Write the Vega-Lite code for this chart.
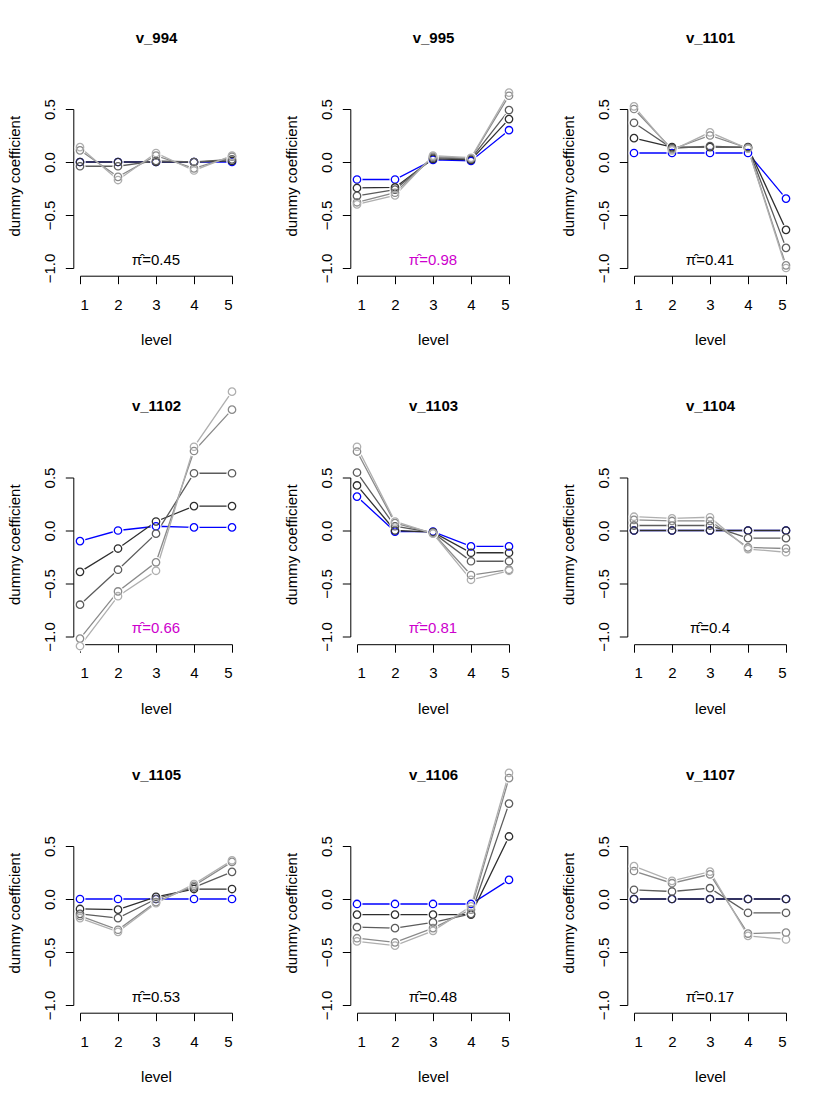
{
  "$schema": "https://vega.github.io/schema/vega-lite/v6.json",
  "background": "white",
  "padding": {"left": 7, "top": 30, "right": 5, "bottom": 5},
  "datasets": {
    "coef": [
      {"v":"v_994","path":"p1","level":1,"coef":0},{"v":"v_994","path":"p1","level":2,"coef":0},{"v":"v_994","path":"p1","level":3,"coef":0},{"v":"v_994","path":"p1","level":4,"coef":0},{"v":"v_994","path":"p1","level":5,"coef":0},
      {"v":"v_994","path":"p2","level":1,"coef":0},{"v":"v_994","path":"p2","level":2,"coef":0},{"v":"v_994","path":"p2","level":3,"coef":0},{"v":"v_994","path":"p2","level":4,"coef":0},{"v":"v_994","path":"p2","level":5,"coef":0.01},
      {"v":"v_994","path":"p3","level":1,"coef":-0.04},{"v":"v_994","path":"p3","level":2,"coef":-0.04},{"v":"v_994","path":"p3","level":3,"coef":0.01},{"v":"v_994","path":"p3","level":4,"coef":0},{"v":"v_994","path":"p3","level":5,"coef":0.025},
      {"v":"v_994","path":"p4","level":1,"coef":0.11},{"v":"v_994","path":"p4","level":2,"coef":-0.14},{"v":"v_994","path":"p4","level":3,"coef":0.06},{"v":"v_994","path":"p4","level":4,"coef":-0.06},{"v":"v_994","path":"p4","level":5,"coef":0.05},
      {"v":"v_994","path":"p5","level":1,"coef":0.14},{"v":"v_994","path":"p5","level":2,"coef":-0.17},{"v":"v_994","path":"p5","level":3,"coef":0.085},{"v":"v_994","path":"p5","level":4,"coef":-0.08},{"v":"v_994","path":"p5","level":5,"coef":0.06},

      {"v":"v_995","path":"p1","level":1,"coef":-0.165},{"v":"v_995","path":"p1","level":2,"coef":-0.165},{"v":"v_995","path":"p1","level":3,"coef":0.02},{"v":"v_995","path":"p1","level":4,"coef":0.01},{"v":"v_995","path":"p1","level":5,"coef":0.3},
      {"v":"v_995","path":"p2","level":1,"coef":-0.245},{"v":"v_995","path":"p2","level":2,"coef":-0.24},{"v":"v_995","path":"p2","level":3,"coef":0.03},{"v":"v_995","path":"p2","level":4,"coef":0.02},{"v":"v_995","path":"p2","level":5,"coef":0.405},
      {"v":"v_995","path":"p3","level":1,"coef":-0.32},{"v":"v_995","path":"p3","level":2,"coef":-0.26},{"v":"v_995","path":"p3","level":3,"coef":0.04},{"v":"v_995","path":"p3","level":4,"coef":0.03},{"v":"v_995","path":"p3","level":5,"coef":0.49},
      {"v":"v_995","path":"p4","level":1,"coef":-0.38},{"v":"v_995","path":"p4","level":2,"coef":-0.29},{"v":"v_995","path":"p4","level":3,"coef":0.05},{"v":"v_995","path":"p4","level":4,"coef":0.035},{"v":"v_995","path":"p4","level":5,"coef":0.625},
      {"v":"v_995","path":"p5","level":1,"coef":-0.4},{"v":"v_995","path":"p5","level":2,"coef":-0.315},{"v":"v_995","path":"p5","level":3,"coef":0.06},{"v":"v_995","path":"p5","level":4,"coef":0.04},{"v":"v_995","path":"p5","level":5,"coef":0.655},

      {"v":"v_1101","path":"p1","level":1,"coef":0.085},{"v":"v_1101","path":"p1","level":2,"coef":0.085},{"v":"v_1101","path":"p1","level":3,"coef":0.085},{"v":"v_1101","path":"p1","level":4,"coef":0.085},{"v":"v_1101","path":"p1","level":5,"coef":-0.345},
      {"v":"v_1101","path":"p2","level":1,"coef":0.225},{"v":"v_1101","path":"p2","level":2,"coef":0.14},{"v":"v_1101","path":"p2","level":3,"coef":0.14},{"v":"v_1101","path":"p2","level":4,"coef":0.14},{"v":"v_1101","path":"p2","level":5,"coef":-0.64},
      {"v":"v_1101","path":"p3","level":1,"coef":0.37},{"v":"v_1101","path":"p3","level":2,"coef":0.13},{"v":"v_1101","path":"p3","level":3,"coef":0.15},{"v":"v_1101","path":"p3","level":4,"coef":0.135},{"v":"v_1101","path":"p3","level":5,"coef":-0.81},
      {"v":"v_1101","path":"p4","level":1,"coef":0.5},{"v":"v_1101","path":"p4","level":2,"coef":0.12},{"v":"v_1101","path":"p4","level":3,"coef":0.25},{"v":"v_1101","path":"p4","level":4,"coef":0.13},{"v":"v_1101","path":"p4","level":5,"coef":-0.975},
      {"v":"v_1101","path":"p5","level":1,"coef":0.525},{"v":"v_1101","path":"p5","level":2,"coef":0.11},{"v":"v_1101","path":"p5","level":3,"coef":0.28},{"v":"v_1101","path":"p5","level":4,"coef":0.125},{"v":"v_1101","path":"p5","level":5,"coef":-1.0},

      {"v":"v_1102","path":"p1","level":1,"coef":-0.1},{"v":"v_1102","path":"p1","level":2,"coef":0.0},{"v":"v_1102","path":"p1","level":3,"coef":0.04},{"v":"v_1102","path":"p1","level":4,"coef":0.03},{"v":"v_1102","path":"p1","level":5,"coef":0.03},
      {"v":"v_1102","path":"p2","level":1,"coef":-0.39},{"v":"v_1102","path":"p2","level":2,"coef":-0.17},{"v":"v_1102","path":"p2","level":3,"coef":0.085},{"v":"v_1102","path":"p2","level":4,"coef":0.23},{"v":"v_1102","path":"p2","level":5,"coef":0.23},
      {"v":"v_1102","path":"p3","level":1,"coef":-0.7},{"v":"v_1102","path":"p3","level":2,"coef":-0.37},{"v":"v_1102","path":"p3","level":3,"coef":-0.03},{"v":"v_1102","path":"p3","level":4,"coef":0.54},{"v":"v_1102","path":"p3","level":5,"coef":0.54},
      {"v":"v_1102","path":"p4","level":1,"coef":-1.02},{"v":"v_1102","path":"p4","level":2,"coef":-0.575},{"v":"v_1102","path":"p4","level":3,"coef":-0.3},{"v":"v_1102","path":"p4","level":4,"coef":0.75},{"v":"v_1102","path":"p4","level":5,"coef":1.14},
      {"v":"v_1102","path":"p5","level":1,"coef":-1.09},{"v":"v_1102","path":"p5","level":2,"coef":-0.62},{"v":"v_1102","path":"p5","level":3,"coef":-0.38},{"v":"v_1102","path":"p5","level":4,"coef":0.79},{"v":"v_1102","path":"p5","level":5,"coef":1.31},

      {"v":"v_1103","path":"p1","level":1,"coef":0.32},{"v":"v_1103","path":"p1","level":2,"coef":-0.01},{"v":"v_1103","path":"p1","level":3,"coef":-0.01},{"v":"v_1103","path":"p1","level":4,"coef":-0.15},{"v":"v_1103","path":"p1","level":5,"coef":-0.15},
      {"v":"v_1103","path":"p2","level":1,"coef":0.425},{"v":"v_1103","path":"p2","level":2,"coef":0.0},{"v":"v_1103","path":"p2","level":3,"coef":-0.015},{"v":"v_1103","path":"p2","level":4,"coef":-0.21},{"v":"v_1103","path":"p2","level":5,"coef":-0.21},
      {"v":"v_1103","path":"p3","level":1,"coef":0.547},{"v":"v_1103","path":"p3","level":2,"coef":0.04},{"v":"v_1103","path":"p3","level":3,"coef":-0.02},{"v":"v_1103","path":"p3","level":4,"coef":-0.29},{"v":"v_1103","path":"p3","level":5,"coef":-0.29},
      {"v":"v_1103","path":"p4","level":1,"coef":0.745},{"v":"v_1103","path":"p4","level":2,"coef":0.07},{"v":"v_1103","path":"p4","level":3,"coef":-0.025},{"v":"v_1103","path":"p4","level":4,"coef":-0.42},{"v":"v_1103","path":"p4","level":5,"coef":-0.37},
      {"v":"v_1103","path":"p5","level":1,"coef":0.79},{"v":"v_1103","path":"p5","level":2,"coef":0.085},{"v":"v_1103","path":"p5","level":3,"coef":-0.03},{"v":"v_1103","path":"p5","level":4,"coef":-0.465},{"v":"v_1103","path":"p5","level":5,"coef":-0.38},

      {"v":"v_1104","path":"p1","level":1,"coef":0},{"v":"v_1104","path":"p1","level":2,"coef":0},{"v":"v_1104","path":"p1","level":3,"coef":0},{"v":"v_1104","path":"p1","level":4,"coef":0},{"v":"v_1104","path":"p1","level":5,"coef":0},
      {"v":"v_1104","path":"p2","level":1,"coef":0},{"v":"v_1104","path":"p2","level":2,"coef":0},{"v":"v_1104","path":"p2","level":3,"coef":0},{"v":"v_1104","path":"p2","level":4,"coef":0},{"v":"v_1104","path":"p2","level":5,"coef":0},
      {"v":"v_1104","path":"p3","level":1,"coef":0.047},{"v":"v_1104","path":"p3","level":2,"coef":0.047},{"v":"v_1104","path":"p3","level":3,"coef":0.047},{"v":"v_1104","path":"p3","level":4,"coef":-0.072},{"v":"v_1104","path":"p3","level":5,"coef":-0.072},
      {"v":"v_1104","path":"p4","level":1,"coef":0.1},{"v":"v_1104","path":"p4","level":2,"coef":0.09},{"v":"v_1104","path":"p4","level":3,"coef":0.09},{"v":"v_1104","path":"p4","level":4,"coef":-0.16},{"v":"v_1104","path":"p4","level":5,"coef":-0.17},
      {"v":"v_1104","path":"p5","level":1,"coef":0.13},{"v":"v_1104","path":"p5","level":2,"coef":0.115},{"v":"v_1104","path":"p5","level":3,"coef":0.125},{"v":"v_1104","path":"p5","level":4,"coef":-0.175},{"v":"v_1104","path":"p5","level":5,"coef":-0.205},

      {"v":"v_1105","path":"p1","level":1,"coef":0},{"v":"v_1105","path":"p1","level":2,"coef":0},{"v":"v_1105","path":"p1","level":3,"coef":0},{"v":"v_1105","path":"p1","level":4,"coef":0},{"v":"v_1105","path":"p1","level":5,"coef":0},
      {"v":"v_1105","path":"p2","level":1,"coef":-0.094},{"v":"v_1105","path":"p2","level":2,"coef":-0.1},{"v":"v_1105","path":"p2","level":3,"coef":0.02},{"v":"v_1105","path":"p2","level":4,"coef":0.094},{"v":"v_1105","path":"p2","level":5,"coef":0.094},
      {"v":"v_1105","path":"p3","level":1,"coef":-0.14},{"v":"v_1105","path":"p3","level":2,"coef":-0.18},{"v":"v_1105","path":"p3","level":3,"coef":0.0},{"v":"v_1105","path":"p3","level":4,"coef":0.11},{"v":"v_1105","path":"p3","level":5,"coef":0.256},
      {"v":"v_1105","path":"p4","level":1,"coef":-0.16},{"v":"v_1105","path":"p4","level":2,"coef":-0.29},{"v":"v_1105","path":"p4","level":3,"coef":-0.03},{"v":"v_1105","path":"p4","level":4,"coef":0.125},{"v":"v_1105","path":"p4","level":5,"coef":0.35},
      {"v":"v_1105","path":"p5","level":1,"coef":-0.18},{"v":"v_1105","path":"p5","level":2,"coef":-0.31},{"v":"v_1105","path":"p5","level":3,"coef":-0.04},{"v":"v_1105","path":"p5","level":4,"coef":0.14},{"v":"v_1105","path":"p5","level":5,"coef":0.365},

      {"v":"v_1106","path":"p1","level":1,"coef":-0.047},{"v":"v_1106","path":"p1","level":2,"coef":-0.047},{"v":"v_1106","path":"p1","level":3,"coef":-0.047},{"v":"v_1106","path":"p1","level":4,"coef":-0.047},{"v":"v_1106","path":"p1","level":5,"coef":0.18},
      {"v":"v_1106","path":"p2","level":1,"coef":-0.147},{"v":"v_1106","path":"p2","level":2,"coef":-0.147},{"v":"v_1106","path":"p2","level":3,"coef":-0.147},{"v":"v_1106","path":"p2","level":4,"coef":-0.147},{"v":"v_1106","path":"p2","level":5,"coef":0.59},
      {"v":"v_1106","path":"p3","level":1,"coef":-0.266},{"v":"v_1106","path":"p3","level":2,"coef":-0.275},{"v":"v_1106","path":"p3","level":3,"coef":-0.22},{"v":"v_1106","path":"p3","level":4,"coef":-0.14},{"v":"v_1106","path":"p3","level":5,"coef":0.9},
      {"v":"v_1106","path":"p4","level":1,"coef":-0.37},{"v":"v_1106","path":"p4","level":2,"coef":-0.41},{"v":"v_1106","path":"p4","level":3,"coef":-0.275},{"v":"v_1106","path":"p4","level":4,"coef":-0.1},{"v":"v_1106","path":"p4","level":5,"coef":1.14},
      {"v":"v_1106","path":"p5","level":1,"coef":-0.4},{"v":"v_1106","path":"p5","level":2,"coef":-0.44},{"v":"v_1106","path":"p5","level":3,"coef":-0.3},{"v":"v_1106","path":"p5","level":4,"coef":-0.07},{"v":"v_1106","path":"p5","level":5,"coef":1.19},

      {"v":"v_1107","path":"p1","level":1,"coef":0},{"v":"v_1107","path":"p1","level":2,"coef":0},{"v":"v_1107","path":"p1","level":3,"coef":0},{"v":"v_1107","path":"p1","level":4,"coef":0},{"v":"v_1107","path":"p1","level":5,"coef":0},
      {"v":"v_1107","path":"p2","level":1,"coef":0},{"v":"v_1107","path":"p2","level":2,"coef":0},{"v":"v_1107","path":"p2","level":3,"coef":0},{"v":"v_1107","path":"p2","level":4,"coef":0},{"v":"v_1107","path":"p2","level":5,"coef":0},
      {"v":"v_1107","path":"p3","level":1,"coef":0.087},{"v":"v_1107","path":"p3","level":2,"coef":0.071},{"v":"v_1107","path":"p3","level":3,"coef":0.102},{"v":"v_1107","path":"p3","level":4,"coef":-0.13},{"v":"v_1107","path":"p3","level":5,"coef":-0.13},
      {"v":"v_1107","path":"p4","level":1,"coef":0.264},{"v":"v_1107","path":"p4","level":2,"coef":0.149},{"v":"v_1107","path":"p4","level":3,"coef":0.233},{"v":"v_1107","path":"p4","level":4,"coef":-0.326},{"v":"v_1107","path":"p4","level":5,"coef":-0.317},
      {"v":"v_1107","path":"p5","level":1,"coef":0.31},{"v":"v_1107","path":"p5","level":2,"coef":0.171},{"v":"v_1107","path":"p5","level":3,"coef":0.258},{"v":"v_1107","path":"p5","level":4,"coef":-0.348},{"v":"v_1107","path":"p5","level":5,"coef":-0.382}
    ],
    "pi": [
      {"v":"v_994","pi":"0.45","flag":"no"},
      {"v":"v_995","pi":"0.98","flag":"yes"},
      {"v":"v_1101","pi":"0.41","flag":"no"},
      {"v":"v_1102","pi":"0.66","flag":"yes"},
      {"v":"v_1103","pi":"0.81","flag":"yes"},
      {"v":"v_1104","pi":"0.4","flag":"no"},
      {"v":"v_1105","pi":"0.53","flag":"no"},
      {"v":"v_1106","pi":"0.48","flag":"no"},
      {"v":"v_1107","pi":"0.17","flag":"no"}
    ]
  },
  "data": {"name": "coef"},
  "transform": [{"lookup": "v", "from": {"data": {"name": "pi"}, "key": "v", "fields": ["pi", "flag"]}}],
  "columns": 3,
  "spacing": {"row": 209.5, "column": 125},
  "bounds": "flush",
  "concat": [
    {"width": 152, "height": 159, "transform": [{"filter": "datum.v == 'v_994'"}],
     "encoding": {"x": {"field": "level", "type": "quantitative", "scale": {"domain": [1, 5], "nice": false, "zero": false}, "axis": null},
                  "y": {"field": "coef", "type": "quantitative", "scale": {"domain": [-1, 0.5], "nice": false, "zero": false}, "axis": {"values": [-1,-0.5,0,0.5], "format": ".1f", "title": "dummy coefficient"}}},
     "resolve": {"axis": {"x": "independent"}},
     "layer": [
       {"mark": {"type": "line", "strokeWidth": 1.3}, "encoding": {"x": {"field": "level", "type": "quantitative", "axis": {"values": [1,2,3,4,5], "format": "d", "title": "level"}}, "stroke": {"field": "path", "type": "nominal", "legend": null, "scale": {"domain": ["p1","p2","p3","p4","p5"], "range": ["#0000FF", "#2E2E2E", "#5C5C5C", "#8A8A8A", "#AFAFAF"]}}, "order": {"field": "level"}}},
       {"mark": {"type": "point", "filled": true, "fill": "white", "strokeWidth": 0, "size": 121, "opacity": 1}, "encoding": {"x": {"field": "level", "type": "quantitative", "axis": {"orient": "top", "title": "v_994", "labels": false, "ticks": false, "domain": false, "offset": 0, "titleY": -66.6, "titleBaseline": "alphabetic", "titleFontWeight": "bold"}}}},
       {"mark": {"type": "point", "filled": false, "size": 55, "strokeWidth": 1.3, "opacity": 1}, "encoding": {"stroke": {"field": "path", "type": "nominal", "legend": null}}},
       {"transform": [{"filter": "datum.path == 'p1' && datum.level == 1"}, {"calculate": "'π̂=' + datum.pi", "as": "lab"}], "mark": {"type": "text", "fontSize": 15, "baseline": "middle", "align": "center"}, "encoding": {"x": {"datum": 3, "axis": null}, "y": {"datum": -0.92}, "text": {"field": "lab", "type": "nominal"}, "fill": {"field": "flag", "type": "nominal", "legend": null, "scale": {"domain": ["no", "yes"], "range": ["black", "#CD00CD"]}}}}
     ]},
    {"width": 152, "height": 159, "transform": [{"filter": "datum.v == 'v_995'"}],
     "encoding": {"x": {"field": "level", "type": "quantitative", "scale": {"domain": [1, 5], "nice": false, "zero": false}, "axis": null},
                  "y": {"field": "coef", "type": "quantitative", "scale": {"domain": [-1, 0.5], "nice": false, "zero": false}, "axis": {"values": [-1,-0.5,0,0.5], "format": ".1f", "title": "dummy coefficient"}}},
     "resolve": {"axis": {"x": "independent"}},
     "layer": [
       {"mark": {"type": "line", "strokeWidth": 1.3}, "encoding": {"x": {"field": "level", "type": "quantitative", "axis": {"values": [1,2,3,4,5], "format": "d", "title": "level"}}, "stroke": {"field": "path", "type": "nominal", "legend": null, "scale": {"domain": ["p1","p2","p3","p4","p5"], "range": ["#0000FF", "#2E2E2E", "#5C5C5C", "#8A8A8A", "#AFAFAF"]}}, "order": {"field": "level"}}},
       {"mark": {"type": "point", "filled": true, "fill": "white", "strokeWidth": 0, "size": 121, "opacity": 1}, "encoding": {"x": {"field": "level", "type": "quantitative", "axis": {"orient": "top", "title": "v_995", "labels": false, "ticks": false, "domain": false, "offset": 0, "titleY": -66.6, "titleBaseline": "alphabetic", "titleFontWeight": "bold"}}}},
       {"mark": {"type": "point", "filled": false, "size": 55, "strokeWidth": 1.3, "opacity": 1}, "encoding": {"stroke": {"field": "path", "type": "nominal", "legend": null}}},
       {"transform": [{"filter": "datum.path == 'p1' && datum.level == 1"}, {"calculate": "'π̂=' + datum.pi", "as": "lab"}], "mark": {"type": "text", "fontSize": 15, "baseline": "middle", "align": "center"}, "encoding": {"x": {"datum": 3, "axis": null}, "y": {"datum": -0.92}, "text": {"field": "lab", "type": "nominal"}, "fill": {"field": "flag", "type": "nominal", "legend": null, "scale": {"domain": ["no", "yes"], "range": ["black", "#CD00CD"]}}}}
     ]},
    {"width": 152, "height": 159, "transform": [{"filter": "datum.v == 'v_1101'"}],
     "encoding": {"x": {"field": "level", "type": "quantitative", "scale": {"domain": [1, 5], "nice": false, "zero": false}, "axis": null},
                  "y": {"field": "coef", "type": "quantitative", "scale": {"domain": [-1, 0.5], "nice": false, "zero": false}, "axis": {"values": [-1,-0.5,0,0.5], "format": ".1f", "title": "dummy coefficient"}}},
     "resolve": {"axis": {"x": "independent"}},
     "layer": [
       {"mark": {"type": "line", "strokeWidth": 1.3}, "encoding": {"x": {"field": "level", "type": "quantitative", "axis": {"values": [1,2,3,4,5], "format": "d", "title": "level"}}, "stroke": {"field": "path", "type": "nominal", "legend": null, "scale": {"domain": ["p1","p2","p3","p4","p5"], "range": ["#0000FF", "#2E2E2E", "#5C5C5C", "#8A8A8A", "#AFAFAF"]}}, "order": {"field": "level"}}},
       {"mark": {"type": "point", "filled": true, "fill": "white", "strokeWidth": 0, "size": 121, "opacity": 1}, "encoding": {"x": {"field": "level", "type": "quantitative", "axis": {"orient": "top", "title": "v_1101", "labels": false, "ticks": false, "domain": false, "offset": 0, "titleY": -66.6, "titleBaseline": "alphabetic", "titleFontWeight": "bold"}}}},
       {"mark": {"type": "point", "filled": false, "size": 55, "strokeWidth": 1.3, "opacity": 1}, "encoding": {"stroke": {"field": "path", "type": "nominal", "legend": null}}},
       {"transform": [{"filter": "datum.path == 'p1' && datum.level == 1"}, {"calculate": "'π̂=' + datum.pi", "as": "lab"}], "mark": {"type": "text", "fontSize": 15, "baseline": "middle", "align": "center"}, "encoding": {"x": {"datum": 3, "axis": null}, "y": {"datum": -0.92}, "text": {"field": "lab", "type": "nominal"}, "fill": {"field": "flag", "type": "nominal", "legend": null, "scale": {"domain": ["no", "yes"], "range": ["black", "#CD00CD"]}}}}
     ]},
    {"width": 152, "height": 159, "transform": [{"filter": "datum.v == 'v_1102'"}],
     "encoding": {"x": {"field": "level", "type": "quantitative", "scale": {"domain": [1, 5], "nice": false, "zero": false}, "axis": null},
                  "y": {"field": "coef", "type": "quantitative", "scale": {"domain": [-1, 0.5], "nice": false, "zero": false}, "axis": {"values": [-1,-0.5,0,0.5], "format": ".1f", "title": "dummy coefficient"}}},
     "resolve": {"axis": {"x": "independent"}},
     "layer": [
       {"mark": {"type": "line", "strokeWidth": 1.3}, "encoding": {"x": {"field": "level", "type": "quantitative", "axis": {"values": [1,2,3,4,5], "format": "d", "title": "level"}}, "stroke": {"field": "path", "type": "nominal", "legend": null, "scale": {"domain": ["p1","p2","p3","p4","p5"], "range": ["#0000FF", "#2E2E2E", "#5C5C5C", "#8A8A8A", "#AFAFAF"]}}, "order": {"field": "level"}}},
       {"mark": {"type": "point", "filled": true, "fill": "white", "strokeWidth": 0, "size": 121, "opacity": 1}, "encoding": {"x": {"field": "level", "type": "quantitative", "axis": {"orient": "top", "title": "v_1102", "labels": false, "ticks": false, "domain": false, "offset": 0, "titleY": -66.6, "titleBaseline": "alphabetic", "titleFontWeight": "bold"}}}},
       {"mark": {"type": "point", "filled": false, "size": 55, "strokeWidth": 1.3, "opacity": 1}, "encoding": {"stroke": {"field": "path", "type": "nominal", "legend": null}}},
       {"transform": [{"filter": "datum.path == 'p1' && datum.level == 1"}, {"calculate": "'π̂=' + datum.pi", "as": "lab"}], "mark": {"type": "text", "fontSize": 15, "baseline": "middle", "align": "center"}, "encoding": {"x": {"datum": 3, "axis": null}, "y": {"datum": -0.92}, "text": {"field": "lab", "type": "nominal"}, "fill": {"field": "flag", "type": "nominal", "legend": null, "scale": {"domain": ["no", "yes"], "range": ["black", "#CD00CD"]}}}}
     ]},
    {"width": 152, "height": 159, "transform": [{"filter": "datum.v == 'v_1103'"}],
     "encoding": {"x": {"field": "level", "type": "quantitative", "scale": {"domain": [1, 5], "nice": false, "zero": false}, "axis": null},
                  "y": {"field": "coef", "type": "quantitative", "scale": {"domain": [-1, 0.5], "nice": false, "zero": false}, "axis": {"values": [-1,-0.5,0,0.5], "format": ".1f", "title": "dummy coefficient"}}},
     "resolve": {"axis": {"x": "independent"}},
     "layer": [
       {"mark": {"type": "line", "strokeWidth": 1.3}, "encoding": {"x": {"field": "level", "type": "quantitative", "axis": {"values": [1,2,3,4,5], "format": "d", "title": "level"}}, "stroke": {"field": "path", "type": "nominal", "legend": null, "scale": {"domain": ["p1","p2","p3","p4","p5"], "range": ["#0000FF", "#2E2E2E", "#5C5C5C", "#8A8A8A", "#AFAFAF"]}}, "order": {"field": "level"}}},
       {"mark": {"type": "point", "filled": true, "fill": "white", "strokeWidth": 0, "size": 121, "opacity": 1}, "encoding": {"x": {"field": "level", "type": "quantitative", "axis": {"orient": "top", "title": "v_1103", "labels": false, "ticks": false, "domain": false, "offset": 0, "titleY": -66.6, "titleBaseline": "alphabetic", "titleFontWeight": "bold"}}}},
       {"mark": {"type": "point", "filled": false, "size": 55, "strokeWidth": 1.3, "opacity": 1}, "encoding": {"stroke": {"field": "path", "type": "nominal", "legend": null}}},
       {"transform": [{"filter": "datum.path == 'p1' && datum.level == 1"}, {"calculate": "'π̂=' + datum.pi", "as": "lab"}], "mark": {"type": "text", "fontSize": 15, "baseline": "middle", "align": "center"}, "encoding": {"x": {"datum": 3, "axis": null}, "y": {"datum": -0.92}, "text": {"field": "lab", "type": "nominal"}, "fill": {"field": "flag", "type": "nominal", "legend": null, "scale": {"domain": ["no", "yes"], "range": ["black", "#CD00CD"]}}}}
     ]},
    {"width": 152, "height": 159, "transform": [{"filter": "datum.v == 'v_1104'"}],
     "encoding": {"x": {"field": "level", "type": "quantitative", "scale": {"domain": [1, 5], "nice": false, "zero": false}, "axis": null},
                  "y": {"field": "coef", "type": "quantitative", "scale": {"domain": [-1, 0.5], "nice": false, "zero": false}, "axis": {"values": [-1,-0.5,0,0.5], "format": ".1f", "title": "dummy coefficient"}}},
     "resolve": {"axis": {"x": "independent"}},
     "layer": [
       {"mark": {"type": "line", "strokeWidth": 1.3}, "encoding": {"x": {"field": "level", "type": "quantitative", "axis": {"values": [1,2,3,4,5], "format": "d", "title": "level"}}, "stroke": {"field": "path", "type": "nominal", "legend": null, "scale": {"domain": ["p1","p2","p3","p4","p5"], "range": ["#0000FF", "#2E2E2E", "#5C5C5C", "#8A8A8A", "#AFAFAF"]}}, "order": {"field": "level"}}},
       {"mark": {"type": "point", "filled": true, "fill": "white", "strokeWidth": 0, "size": 121, "opacity": 1}, "encoding": {"x": {"field": "level", "type": "quantitative", "axis": {"orient": "top", "title": "v_1104", "labels": false, "ticks": false, "domain": false, "offset": 0, "titleY": -66.6, "titleBaseline": "alphabetic", "titleFontWeight": "bold"}}}},
       {"mark": {"type": "point", "filled": false, "size": 55, "strokeWidth": 1.3, "opacity": 1}, "encoding": {"stroke": {"field": "path", "type": "nominal", "legend": null}}},
       {"transform": [{"filter": "datum.path == 'p1' && datum.level == 1"}, {"calculate": "'π̂=' + datum.pi", "as": "lab"}], "mark": {"type": "text", "fontSize": 15, "baseline": "middle", "align": "center"}, "encoding": {"x": {"datum": 3, "axis": null}, "y": {"datum": -0.92}, "text": {"field": "lab", "type": "nominal"}, "fill": {"field": "flag", "type": "nominal", "legend": null, "scale": {"domain": ["no", "yes"], "range": ["black", "#CD00CD"]}}}}
     ]},
    {"width": 152, "height": 159, "transform": [{"filter": "datum.v == 'v_1105'"}],
     "encoding": {"x": {"field": "level", "type": "quantitative", "scale": {"domain": [1, 5], "nice": false, "zero": false}, "axis": null},
                  "y": {"field": "coef", "type": "quantitative", "scale": {"domain": [-1, 0.5], "nice": false, "zero": false}, "axis": {"values": [-1,-0.5,0,0.5], "format": ".1f", "title": "dummy coefficient"}}},
     "resolve": {"axis": {"x": "independent"}},
     "layer": [
       {"mark": {"type": "line", "strokeWidth": 1.3}, "encoding": {"x": {"field": "level", "type": "quantitative", "axis": {"values": [1,2,3,4,5], "format": "d", "title": "level"}}, "stroke": {"field": "path", "type": "nominal", "legend": null, "scale": {"domain": ["p1","p2","p3","p4","p5"], "range": ["#0000FF", "#2E2E2E", "#5C5C5C", "#8A8A8A", "#AFAFAF"]}}, "order": {"field": "level"}}},
       {"mark": {"type": "point", "filled": true, "fill": "white", "strokeWidth": 0, "size": 121, "opacity": 1}, "encoding": {"x": {"field": "level", "type": "quantitative", "axis": {"orient": "top", "title": "v_1105", "labels": false, "ticks": false, "domain": false, "offset": 0, "titleY": -66.6, "titleBaseline": "alphabetic", "titleFontWeight": "bold"}}}},
       {"mark": {"type": "point", "filled": false, "size": 55, "strokeWidth": 1.3, "opacity": 1}, "encoding": {"stroke": {"field": "path", "type": "nominal", "legend": null}}},
       {"transform": [{"filter": "datum.path == 'p1' && datum.level == 1"}, {"calculate": "'π̂=' + datum.pi", "as": "lab"}], "mark": {"type": "text", "fontSize": 15, "baseline": "middle", "align": "center"}, "encoding": {"x": {"datum": 3, "axis": null}, "y": {"datum": -0.92}, "text": {"field": "lab", "type": "nominal"}, "fill": {"field": "flag", "type": "nominal", "legend": null, "scale": {"domain": ["no", "yes"], "range": ["black", "#CD00CD"]}}}}
     ]},
    {"width": 152, "height": 159, "transform": [{"filter": "datum.v == 'v_1106'"}],
     "encoding": {"x": {"field": "level", "type": "quantitative", "scale": {"domain": [1, 5], "nice": false, "zero": false}, "axis": null},
                  "y": {"field": "coef", "type": "quantitative", "scale": {"domain": [-1, 0.5], "nice": false, "zero": false}, "axis": {"values": [-1,-0.5,0,0.5], "format": ".1f", "title": "dummy coefficient"}}},
     "resolve": {"axis": {"x": "independent"}},
     "layer": [
       {"mark": {"type": "line", "strokeWidth": 1.3}, "encoding": {"x": {"field": "level", "type": "quantitative", "axis": {"values": [1,2,3,4,5], "format": "d", "title": "level"}}, "stroke": {"field": "path", "type": "nominal", "legend": null, "scale": {"domain": ["p1","p2","p3","p4","p5"], "range": ["#0000FF", "#2E2E2E", "#5C5C5C", "#8A8A8A", "#AFAFAF"]}}, "order": {"field": "level"}}},
       {"mark": {"type": "point", "filled": true, "fill": "white", "strokeWidth": 0, "size": 121, "opacity": 1}, "encoding": {"x": {"field": "level", "type": "quantitative", "axis": {"orient": "top", "title": "v_1106", "labels": false, "ticks": false, "domain": false, "offset": 0, "titleY": -66.6, "titleBaseline": "alphabetic", "titleFontWeight": "bold"}}}},
       {"mark": {"type": "point", "filled": false, "size": 55, "strokeWidth": 1.3, "opacity": 1}, "encoding": {"stroke": {"field": "path", "type": "nominal", "legend": null}}},
       {"transform": [{"filter": "datum.path == 'p1' && datum.level == 1"}, {"calculate": "'π̂=' + datum.pi", "as": "lab"}], "mark": {"type": "text", "fontSize": 15, "baseline": "middle", "align": "center"}, "encoding": {"x": {"datum": 3, "axis": null}, "y": {"datum": -0.92}, "text": {"field": "lab", "type": "nominal"}, "fill": {"field": "flag", "type": "nominal", "legend": null, "scale": {"domain": ["no", "yes"], "range": ["black", "#CD00CD"]}}}}
     ]},
    {"width": 152, "height": 159, "transform": [{"filter": "datum.v == 'v_1107'"}],
     "encoding": {"x": {"field": "level", "type": "quantitative", "scale": {"domain": [1, 5], "nice": false, "zero": false}, "axis": null},
                  "y": {"field": "coef", "type": "quantitative", "scale": {"domain": [-1, 0.5], "nice": false, "zero": false}, "axis": {"values": [-1,-0.5,0,0.5], "format": ".1f", "title": "dummy coefficient"}}},
     "resolve": {"axis": {"x": "independent"}},
     "layer": [
       {"mark": {"type": "line", "strokeWidth": 1.3}, "encoding": {"x": {"field": "level", "type": "quantitative", "axis": {"values": [1,2,3,4,5], "format": "d", "title": "level"}}, "stroke": {"field": "path", "type": "nominal", "legend": null, "scale": {"domain": ["p1","p2","p3","p4","p5"], "range": ["#0000FF", "#2E2E2E", "#5C5C5C", "#8A8A8A", "#AFAFAF"]}}, "order": {"field": "level"}}},
       {"mark": {"type": "point", "filled": true, "fill": "white", "strokeWidth": 0, "size": 121, "opacity": 1}, "encoding": {"x": {"field": "level", "type": "quantitative", "axis": {"orient": "top", "title": "v_1107", "labels": false, "ticks": false, "domain": false, "offset": 0, "titleY": -66.6, "titleBaseline": "alphabetic", "titleFontWeight": "bold"}}}},
       {"mark": {"type": "point", "filled": false, "size": 55, "strokeWidth": 1.3, "opacity": 1}, "encoding": {"stroke": {"field": "path", "type": "nominal", "legend": null}}},
       {"transform": [{"filter": "datum.path == 'p1' && datum.level == 1"}, {"calculate": "'π̂=' + datum.pi", "as": "lab"}], "mark": {"type": "text", "fontSize": 15, "baseline": "middle", "align": "center"}, "encoding": {"x": {"datum": 3, "axis": null}, "y": {"datum": -0.92}, "text": {"field": "lab", "type": "nominal"}, "fill": {"field": "flag", "type": "nominal", "legend": null, "scale": {"domain": ["no", "yes"], "range": ["black", "#CD00CD"]}}}}
     ]}
  ],
  "config": {
    "font": "Liberation Sans",
    "view": {"stroke": null},
    "axis": {"grid": false, "domainColor": "black", "tickColor": "black", "labelColor": "black", "titleColor": "black", "labelFontSize": 15, "titleFontSize": 15, "titleFontWeight": "normal", "tickSize": 8, "domainWidth": 1, "tickWidth": 1, "zindex": 1, "labelFont": "Liberation Sans", "titleFont": "Liberation Sans"},
    "axisX": {"offset": 7.7, "labelPadding": 13.5, "labelBaseline": "top", "titleBaseline": "top", "titleY": 57},
    "axisY": {"offset": 6.7, "labelAngle": 270, "labelAlign": "center", "labelBaseline": "alphabetic", "labelPadding": 10.5, "titleAngle": 270, "titleAlign": "center", "titleBaseline": "middle", "titleX": -59, "titleY": 66.7}
  }
}
